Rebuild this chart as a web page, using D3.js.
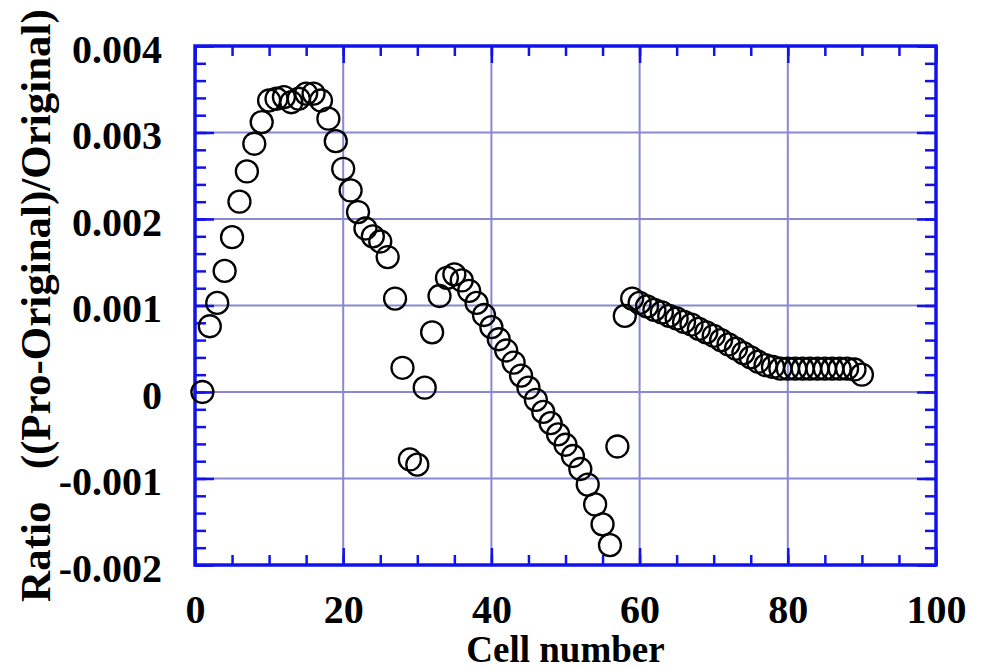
<!DOCTYPE html>
<html>
<head>
<meta charset="utf-8">
<script src="https://cdn.jsdelivr.net/npm/d3@7"></script>
<style>
  body { margin: 0; background: #fff; }
  text { font-family: "Liberation Serif", "Times New Roman", serif; font-weight: bold; fill: #000; }
</style>
</head>
<body>
<div id="chart"></div>
<script>
// cell index along the device
const cells = [
   1,  2,  3,  4,  5,  6,  7,  8,  9, 10,
  11, 12, 13, 14, 15, 16, 17, 18, 19, 20,
  21, 22, 23, 24, 25, 26, 27, 28, 29, 30,
  31, 32, 33, 34, 35, 36, 37, 38, 39, 40,
  41, 42, 43, 44, 45, 46, 47, 48, 49, 50,
  51, 52, 53, 54, 55, 56, 57, 58, 59, 60,
  61, 62, 63, 64, 65, 66, 67, 68, 69, 70,
  71, 72, 73, 74, 75, 76, 77, 78, 79, 80,
  81, 82, 83, 84, 85, 86, 87, 88, 89, 90
];

// (Pro - Original) / Original
const ratio = [
   0.00000,  0.00076,  0.00103,  0.00140,  0.00179,  0.00220,  0.00255,  0.00287,  0.00312,  0.00337,
   0.00339,  0.00341,  0.00335,  0.00339,  0.00345,  0.00345,  0.00337,  0.00316,  0.00290,  0.00258,
   0.00233,  0.00208,  0.00189,  0.00180,  0.00174,  0.00156,  0.00108,  0.00028, -0.00078, -0.00084,
   0.00005,  0.00069,  0.00111,  0.00132,  0.00136,  0.00129,  0.00117,  0.00103,  0.00089,  0.00075,
   0.00061,  0.00048,  0.00034,  0.00019,  0.00005, -0.00009, -0.00023, -0.00036, -0.00049, -0.00061,
  -0.00074, -0.00089, -0.00107, -0.00130, -0.00153, -0.00177, -0.00063,  0.00088,  0.00108,  0.00103,
   0.00099,  0.00095,  0.00092,  0.00088,  0.00085,  0.00081,  0.00078,  0.00073,  0.00069,  0.00065,
   0.00060,  0.00055,  0.00050,  0.00045,  0.00040,  0.00035,  0.00031,  0.00029,  0.00027,  0.00027,
   0.00027,  0.00027,  0.00027,  0.00027,  0.00027,  0.00027,  0.00027,  0.00027,  0.00026,  0.00020
];

const xTicks = [0, 20, 40, 60, 80, 100];
const yTicks = [-0.002, -0.001, 0, 0.001, 0.002, 0.003, 0.004];
const yTickLabels = ["-0.002", "-0.001", "0", "0.001", "0.002", "0.003", "0.004"];

const margin = { top: 46, right: 46, bottom: 104, left: 195 },
      width = 982 - margin.left - margin.right,
      height = 669 - margin.top - margin.bottom;

const frameColor = "#1212ec",
      gridColor = "#8888d4";

const x = d3.scaleLinear().domain([0, 100]).range([0, width]);
const y = d3.scaleLinear().domain([-0.002, 0.004]).range([height, 0]);

const svg = d3.select("#chart").append("svg")
    .attr("width", 982)
    .attr("height", 669);

const g = svg.append("g")
    .attr("transform", `translate(${margin.left},${margin.top})`);

// grid at the major ticks
const grid = g.append("g").attr("class", "grid");

grid.selectAll("line.gx")
    .data(xTicks.slice(1, -1))
    .join(enter => enter.append("line").attr("class", "gx"))
    .attr("x1", d => x(d)).attr("x2", d => x(d))
    .attr("y1", 0).attr("y2", height)
    .attr("stroke", gridColor).attr("stroke-width", 2);

grid.selectAll("line.gy")
    .data(yTicks.slice(1, -1))
    .join(enter => enter.append("line").attr("class", "gy"))
    .attr("x1", 0).attr("x2", width)
    .attr("y1", d => y(d)).attr("y2", d => y(d))
    .attr("stroke", gridColor).attr("stroke-width", 2);

// inward ticks on all four sides
function ticks(axis, vals, size, transform) {
    const a = g.append("g")
        .attr("transform", transform)
        .call(axis.tickValues(vals).tickSize(-size).tickFormat(""));
    a.select(".domain").remove();
    a.selectAll(".tick line").attr("stroke", frameColor).attr("stroke-width", 2.5);
}

const xMinor = x.ticks(20), yMinor = y.ticks(30);
ticks(d3.axisBottom(x), xMinor, 10, `translate(0,${height})`);
ticks(d3.axisBottom(x), xTicks, 17, `translate(0,${height})`);
ticks(d3.axisTop(x), xMinor, 10, "translate(0,0)");
ticks(d3.axisTop(x), xTicks, 17, "translate(0,0)");
ticks(d3.axisLeft(y), yMinor, 11, "translate(0,0)");
ticks(d3.axisLeft(y), yTicks, 19, "translate(0,0)");
ticks(d3.axisRight(y), yMinor, 11, `translate(${width},0)`);
ticks(d3.axisRight(y), yTicks, 19, `translate(${width},0)`);

// frame
g.append("rect")
    .attr("width", width)
    .attr("height", height)
    .attr("fill", "none")
    .attr("stroke", frameColor)
    .attr("stroke-width", 3.5);

// tick labels
const xAxis = g.append("g")
    .attr("transform", `translate(0,${height})`)
    .call(d3.axisBottom(x).tickValues(xTicks).tickSize(0).tickPadding(30));
xAxis.select(".domain").remove();
xAxis.selectAll("text").style("font-size", "40px");

const yAxis = g.append("g")
    .call(d3.axisLeft(y).tickValues(yTicks).tickSize(0).tickPadding(33)
        .tickFormat((d, i) => yTickLabels[i]));
yAxis.select(".domain").remove();
yAxis.selectAll("text").style("font-size", "40px").attr("dy", "0.4em");

// data points
g.append("g")
    .selectAll("circle")
    .data(cells.map((c, i) => ({ cell: c, value: ratio[i] })))
    .join("circle")
    .attr("cx", d => x(d.cell))
    .attr("cy", d => y(d.value))
    .attr("r", 11)
    .attr("fill", "none")
    .attr("stroke", "#000")
    .attr("stroke-width", 2.3);

// axis titles
svg.append("text")
    .attr("x", margin.left + width / 2)
    .attr("y", 662)
    .attr("text-anchor", "middle")
    .style("font-size", "37px")
    .text("Cell number");

svg.append("text")
    .attr("transform", `translate(50,${margin.top + height / 2}) rotate(-90)`)
    .attr("text-anchor", "middle")
    .attr("xml:space", "preserve")
    .style("white-space", "pre")
    .style("font-size", "43px")
    .text("Ratio   ((Pro-Original)/Original)");
</script>
</body>
</html>
